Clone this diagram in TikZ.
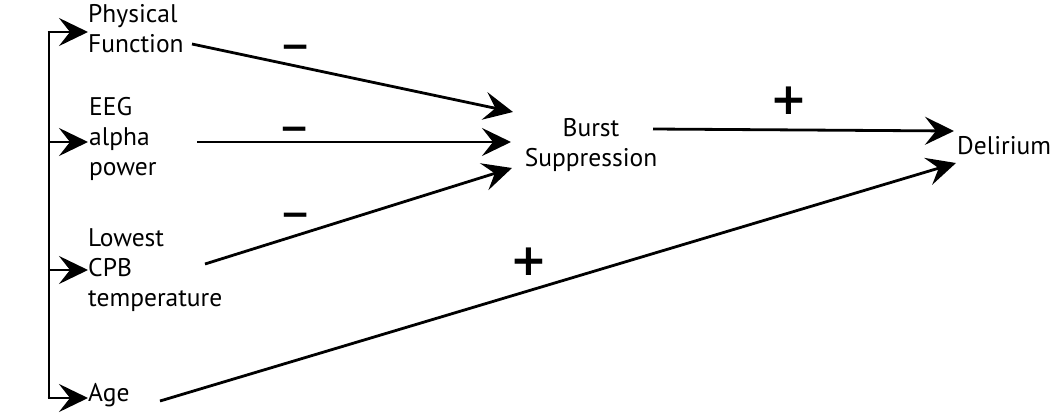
\documentclass[tikz,border=0pt]{standalone}
\usepackage{fontspec}
\setmainfont{PT Sans}
\newfontfamily\signfont{DejaVu Sans}
\usetikzlibrary{arrows.meta}
\tikzset{
  lbl/.style={inner sep=0pt, align=left, anchor=west, font=\fontsize{25.5}{30}\selectfont},
  conn/.style={line width=2.8pt, -{Stealth[length=29pt,width=28pt,inset=11pt]}},
  sign/.style={inner sep=0pt, font=\signfont\bfseries\fontsize{44}{44}\selectfont},
  minus/.style={inner sep=0pt, font=\signfont\bfseries\fontsize{36}{36}\selectfont},
}
\begin{document}
\begin{tikzpicture}[x=1pt,y=-1pt]
\useasboundingbox (0,0) rectangle (1050,416);
% text nodes
\node[lbl] (pf) at (88,29) {Physical\\Function};
\node[lbl] (eeg) at (89,139) {EEG\\alpha\\power};
\node[lbl] (cpb) at (88,270) {Lowest\\CPB\\temperature};
\node[lbl] (age) at (88,395) {Age};
\node[lbl, align=center, anchor=center] (bs) at (591,145) {Burst\\Suppression};
\node[lbl] (del) at (957,146) {Delirium};
% bracket
\coordinate (top) at (49,32);
\coordinate (bot) at (49,398);
\coordinate (b1) at (49,142);
\coordinate (b2) at (49,270);
\draw[line width=2.8pt] (top) -- (bot);
\draw[conn] ([xshift=-1.4pt]top) -- (pf.west |- top);
\draw[conn] (b1) -- (pf.west |- b1);
\draw[conn] (b2) -- (pf.west |- b2);
\draw[conn] ([xshift=-1.4pt]bot) -- (pf.west |- bot);
% main arrows
\coordinate (s1) at (192,44);
\coordinate (e1) at (513,112);
\coordinate (s2) at (197,142);
\coordinate (e2) at (511,142);
\coordinate (s3) at (205,264);
\coordinate (e3) at (512,168);
\coordinate (s4) at (653,129);
\coordinate (e4) at (954,131);
\coordinate (s5) at (160,401);
\coordinate (e5) at (956,163);
\draw[conn] (s1) -- (e1);
\draw[conn] (s2) -- (e2);
\draw[conn] (s3) -- (e3);
\draw[conn] (s4) -- (e4);
\draw[conn] (s5) -- (e5);
% signs
\node[minus] (m1) at (296,52) {−};
\node[minus] (m2) at (295,134) {−};
\node[minus] (m3) at (296,220) {−};
\node[sign] (p1) at (789,101) {+};
\node[sign] (p2) at (529,262) {+};
\end{tikzpicture}
\end{document}
